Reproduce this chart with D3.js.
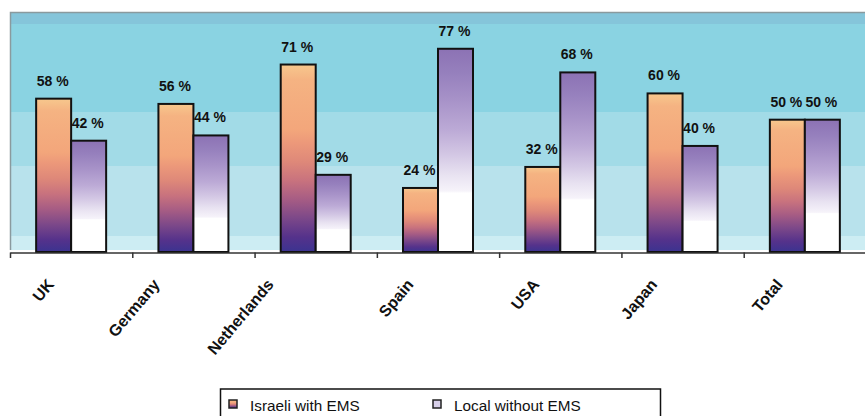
<!DOCTYPE html>
<html>
<head>
<style>
body { margin: 0; background: #ffffff; }
svg { display: block; }
</style>
</head>
<body>

<svg id='chart'></svg>

<script src="https://d3js.org/d3.v7.min.js"></script>
<script>
IMG_SIZE = [865, 416]
PLOT = {left: 10, top: 12, right: 866, bottom: 251}
FONT = 'Arial, "Liberation Sans", sans-serif'

var countries = ['UK', 'Germany', 'Netherlands', 'Spain', 'USA', 'Japan', 'Total']
var israeliWithEms = [58, 56, 71, 24, 32, 60, 50]
var localWithoutEms = [42, 44, 29, 77, 68, 40, 50]
var seriesNames = ['Israeli with EMS', 'Local without EMS']
var yDomain = [0, 91]

var svg = d3.select('#chart')
	.attr('width', IMG_SIZE[0])
	.attr('height', IMG_SIZE[1])

var defs = svg.append('defs')

// stepped gradient helper: list of [offset, colour]
function addGradient(id, stops) {
	var g = defs.append('linearGradient')
		.attr('id', id)
		.attr('x1', 0).attr('y1', 0)
		.attr('x2', 0).attr('y2', 1)
	stops.forEach(function(s) {
		g.append('stop').attr('offset', s[0]).attr('stop-color', s[1])
	})
}

addGradient('bgGrad', [
	[0, '#85c5da'], [0.05, '#85c5da'], [0.05, '#8ad3e2'], [0.42, '#8ad3e2'],
	[0.42, '#a2dbe7'], [0.645, '#a2dbe7'], [0.645, '#b8e2ec'], [0.94, '#b8e2ec'],
	[0.94, '#cdedf3'], [1, '#cdedf3']
])

addGradient('orangeGrad', [
	[0, '#f7c88d'], [0.08, '#f5b382'], [0.35, '#f3a67b'], [0.42, '#ec987a'],
	[0.52, '#de8879'], [0.62, '#c8727e'], [0.72, '#a65c84'], [0.82, '#7c4889'],
	[0.92, '#55328b'], [1, '#3b3390']
])

addGradient('purpleGrad', [
	[0, '#8c72b4'], [0.12, '#9680bd'], [0.25, '#a792c8'], [0.4, '#bcaad6'],
	[0.52, '#d3c7e4'], [0.62, '#e8e2f1'], [0.7, '#f6f3fa'], [0.71, '#ffffff'], [1, '#ffffff']
])

var x = d3.scaleBand()
	.domain(countries)
	.range([PLOT.left, PLOT.right])
	.paddingInner(0)
	.paddingOuter(0)

var barW = 35
var xSeries = d3.scaleBand()
	.domain(seriesNames)
	.range([-barW, barW])

var y = d3.scaleLinear()
	.domain(yDomain)
	.range([PLOT.bottom, PLOT.top])

// plot background
svg.append('rect')
	.attr('x', PLOT.left)
	.attr('y', PLOT.top)
	.attr('width', PLOT.right - PLOT.left)
	.attr('height', PLOT.bottom - PLOT.top - 1)
	.style('fill', 'url(#bgGrad)')

svg.append('path')
	.attr('d', 'M ' + (PLOT.left + 0.5) + ' ' + (PLOT.bottom - 1) + ' V ' + (PLOT.top + 0.5) + ' H ' + PLOT.right)
	.style('stroke', '#8a9a9e')
	.style('stroke-width', 1.5)
	.style('fill', 'none')

var rows = countries.map(function(c, i) {
	return [
		{country: c, series: seriesNames[0], value: israeliWithEms[i], fill: 'url(#orangeGrad)'},
		{country: c, series: seriesNames[1], value: localWithoutEms[i], fill: 'url(#purpleGrad)'}
	]
}).flat()

function barX(d) {
	return x(d.country) + x.bandwidth() / 2 + xSeries(d.series)
}

svg.append('g').selectAll('rect')
	.data(rows)
	.enter()
	.append('rect')
	.attr('x', barX)
	.attr('y', function(d) { return y(d.value) })
	.attr('width', xSeries.bandwidth())
	.attr('height', function(d) { return y(0) - y(d.value) + 1 })
	.style('fill', function(d) { return d.fill })
	.style('stroke', '#111')
	.style('stroke-width', 2)

svg.append('g').selectAll('text')
	.data(rows)
	.enter()
	.append('text')
	.attr('x', function(d) { return barX(d) + xSeries.bandwidth() / 2 - 1 })
	.attr('y', function(d) { return y(d.value) - 13 })
	.attr('text-anchor', 'middle')
	.attr('font-family', FONT)
	.attr('font-weight', 'bold')
	.attr('font-size', 14)
	.style('fill', '#111')
	.text(function(d) { return d.value + '\u00a0%' })

// x axis
var xAxis = d3.axisBottom(x).tickSize(0).tickFormat('')
svg.append('g')
	.attr('transform', 'translate(0,' + (PLOT.bottom + 1.5) + ')')
	.call(xAxis)
	.call(function(g) {
		g.select('.domain').style('stroke', '#333').style('stroke-width', 1.5)
	})

svg.append('g').selectAll('line')
	.data(countries)
	.enter()
	.append('line')
	.attr('x1', function(d) { return x(d) + 0.5 })
	.attr('x2', function(d) { return x(d) + 0.5 })
	.attr('y1', PLOT.bottom + 1.5)
	.attr('y2', PLOT.bottom + 7)
	.style('stroke', '#333')
	.style('stroke-width', 1.5)

var labels = svg.append('g').selectAll('text')
	.data(countries)
	.enter()
	.append('text')
	.attr('font-family', FONT)
	.attr('font-weight', 'bold')
	.attr('font-size', 16)
	.attr('text-anchor', 'end')
	.style('fill', '#111')
	.text(function(d) { return d })

// longer labels sit further left of their category centre
labels.attr('transform', function(d) {
	var len = this.getComputedTextLength()
	var ex = x(d) + x.bandwidth() / 2 - 8 - 0.36 * len
	return 'translate(' + ex + ',' + 285 + ') rotate(-50)'
})

// legend
var legend = svg.append('g')
legend.append('rect')
	.attr('x', 220.5)
	.attr('y', 389)
	.attr('width', 440)
	.attr('height', 40)
	.style('fill', '#fff')
	.style('stroke', '#111')
	.style('stroke-width', 1.5)

var legendX = [229, 433]
var legendFill = ['url(#orangeGrad)', '#d8d0ea']
seriesNames.forEach(function(name, i) {
	legend.append('rect')
		.attr('x', legendX[i])
		.attr('y', 400)
		.attr('width', 8)
		.attr('height', 8)
		.style('fill', legendFill[i])
		.style('stroke', '#222')
		.style('stroke-width', 1.5)
	legend.append('text')
		.attr('x', legendX[i] + 21)
		.attr('y', 411)
		.attr('font-family', FONT)
		.attr('font-size', 15.3)
		.style('fill', '#111')
		.text(name)
})
</script>

</body>
</html>
